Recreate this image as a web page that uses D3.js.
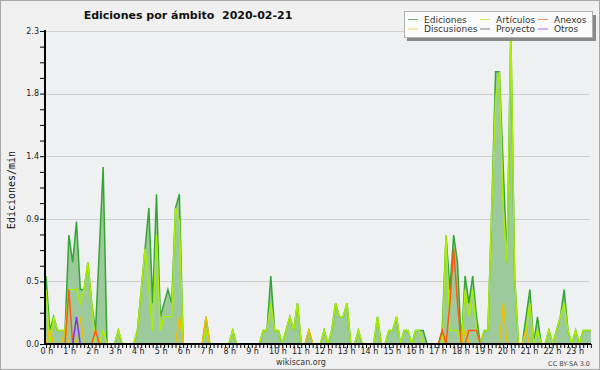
<!DOCTYPE html>
<html>
<head>
<meta charset="utf-8">
<script src="https://cdn.jsdelivr.net/npm/d3@7"></script>
<style>
    body { margin: 0; background: #f0f0f0; }
    svg { display: block; font-family: "DejaVu Sans", sans-serif; }
</style>
</head>
<body>
<div id="chart"></div>
<script>
// Edits per minute, one value per 10-minute slot (00:00 ... 23:50), two hours per row
const ediciones = [
    0.5, 0.1, 0.2, 0.1, 0.1, 0.1, 0.8, 0.6, 0.9, 0.4, 0.4, 0.6,
    0.3, 0.1, 0.7, 1.3, 0, 0, 0, 0.1, 0, 0, 0, 0,
    0.1, 0.4, 0.7, 1.0, 0.3, 1.1, 0.2, 0.3, 0.4, 0.3, 1.0, 1.1,
    0, 0, 0, 0, 0, 0, 0.2, 0, 0, 0, 0, 0,
    0, 0.1, 0, 0, 0, 0, 0, 0, 0, 0.1, 0.1, 0.5,
    0.1, 0.1, 0, 0.1, 0.2, 0.1, 0.3, 0, 0, 0.1, 0, 0,
    0, 0.1, 0, 0.1, 0.3, 0.2, 0.2, 0.3, 0, 0, 0.1, 0,
    0, 0, 0, 0.2, 0, 0, 0.1, 0.1, 0.2, 0, 0.1, 0.1,
    0, 0.1, 0.1, 0.1, 0, 0, 0, 0, 0.1, 0.8, 0.4, 0.8,
    0.6, 0, 0.5, 0.3, 0.5, 0.2, 0, 0.1, 0.1, 1.0, 2.0, 2.0,
    1.3, 0.6, 2.3, 0.5, 0, 0, 0.2, 0.4, 0, 0.2, 0, 0,
    0.1, 0, 0.1, 0.2, 0.4, 0.1, 0, 0.1, 0, 0.1, 0.1, 0.1
];
const articulos = [
    0.4, 0, 0.2, 0.1, 0.1, 0.1, 0.4, 0.4, 0.4, 0.3, 0.4, 0.6,
    0.3, 0, 0, 0.1, 0, 0, 0, 0.1, 0, 0, 0, 0,
    0.1, 0.4, 0.7, 0.4, 0.1, 0.8, 0.1, 0.2, 0.2, 0.2, 1.0, 0.9,
    0, 0, 0, 0, 0, 0, 0.1, 0, 0, 0, 0, 0,
    0, 0.1, 0, 0, 0, 0, 0, 0, 0, 0.1, 0.1, 0.3,
    0.1, 0.1, 0, 0.1, 0.2, 0.1, 0.3, 0, 0, 0, 0, 0,
    0, 0.1, 0, 0.1, 0.3, 0.2, 0.2, 0.3, 0, 0, 0.1, 0,
    0, 0, 0, 0.2, 0, 0, 0.1, 0.1, 0.2, 0, 0.1, 0.1,
    0, 0.1, 0.1, 0, 0, 0, 0, 0, 0, 0.8, 0.1, 0.1,
    0.1, 0, 0.4, 0.2, 0.4, 0.1, 0, 0.1, 0.1, 1.0, 1.8, 2.0,
    1.0, 0.6, 2.3, 0.5, 0, 0, 0.1, 0.3, 0, 0.1, 0, 0,
    0.1, 0, 0.1, 0.2, 0.3, 0.1, 0, 0.1, 0, 0.1, 0.1, 0.1
];
const anexos = [
    0, 0, 0, 0, 0, 0, 0.4, 0, 0, 0, 0, 0,
    0, 0.1, 0, 0, 0, 0, 0, 0, 0, 0, 0, 0,
    0, 0, 0, 0, 0, 0, 0, 0, 0, 0, 0, 0,
    0, 0, 0, 0, 0, 0, 0, 0, 0, 0, 0, 0,
    0, 0, 0, 0, 0, 0, 0, 0, 0, 0, 0, 0,
    0, 0, 0, 0, 0, 0, 0, 0, 0, 0, 0, 0,
    0, 0, 0, 0, 0, 0, 0, 0, 0, 0, 0, 0,
    0, 0, 0, 0, 0, 0, 0, 0, 0, 0, 0, 0,
    0, 0, 0, 0, 0, 0, 0, 0, 0.1, 0, 0.3, 0.7,
    0.3, 0, 0, 0.1, 0.1, 0.1, 0, 0, 0, 0, 0, 0,
    0, 0, 0, 0, 0, 0, 0, 0, 0, 0, 0, 0,
    0, 0, 0, 0, 0, 0, 0, 0, 0, 0, 0, 0
];
const discusiones = [
    0, 0.1, 0, 0, 0, 0.1, 0, 0, 0, 0.2, 0, 0,
    0, 0, 0, 0, 0, 0, 0, 0, 0, 0, 0, 0,
    0, 0, 0, 0, 0, 0, 0, 0, 0, 0, 0, 0.2,
    0, 0, 0, 0, 0, 0, 0.2, 0, 0, 0, 0, 0,
    0, 0, 0, 0, 0, 0, 0, 0, 0, 0, 0, 0,
    0, 0, 0, 0, 0, 0, 0, 0, 0, 0.1, 0, 0,
    0, 0, 0, 0, 0, 0, 0, 0, 0, 0, 0, 0,
    0, 0, 0, 0, 0, 0, 0, 0, 0, 0, 0, 0,
    0, 0, 0, 0, 0, 0, 0, 0, 0, 0, 0, 0,
    0, 0, 0.1, 0, 0, 0, 0, 0, 0, 0, 0, 0,
    0.3, 0, 0, 0, 0, 0, 0.1, 0, 0, 0, 0, 0,
    0, 0, 0, 0, 0, 0, 0, 0, 0, 0, 0, 0
];
const proyecto = [
    0, 0, 0, 0, 0, 0, 0, 0, 0, 0, 0, 0,
    0, 0, 0, 0, 0, 0, 0, 0, 0, 0, 0, 0,
    0, 0, 0, 0, 0, 0, 0, 0, 0, 0, 0, 0,
    0, 0, 0, 0, 0, 0, 0, 0, 0, 0, 0, 0,
    0, 0, 0, 0, 0, 0, 0, 0, 0, 0, 0, 0,
    0, 0, 0, 0, 0, 0, 0, 0, 0, 0, 0, 0,
    0, 0, 0, 0, 0, 0, 0, 0, 0, 0, 0, 0,
    0, 0, 0, 0, 0, 0, 0, 0, 0, 0, 0, 0,
    0, 0, 0, 0, 0, 0, 0, 0, 0, 0, 0, 0,
    0, 0, 0, 0, 0, 0, 0, 0, 0, 0, 0, 0,
    0, 0, 0, 0, 0, 0, 0, 0, 0, 0, 0, 0,
    0, 0, 0, 0, 0, 0, 0, 0, 0, 0, 0, 0
];
const otros = [
    0, 0, 0, 0, 0, 0, 0, 0, 0.2, 0, 0, 0,
    0, 0, 0, 0, 0, 0, 0, 0, 0, 0, 0, 0,
    0, 0, 0, 0, 0, 0, 0, 0, 0, 0, 0, 0,
    0, 0, 0, 0, 0, 0, 0, 0, 0, 0, 0, 0,
    0, 0, 0, 0, 0, 0, 0, 0, 0, 0, 0, 0,
    0, 0, 0, 0, 0, 0, 0, 0, 0, 0, 0, 0,
    0, 0, 0, 0, 0, 0, 0, 0, 0, 0, 0, 0,
    0, 0, 0, 0, 0, 0, 0, 0, 0, 0, 0, 0,
    0, 0, 0, 0, 0, 0, 0, 0, 0, 0, 0, 0,
    0, 0, 0, 0, 0, 0, 0, 0, 0, 0, 0, 0,
    0, 0, 0, 0, 0, 0, 0, 0, 0, 0, 0, 0,
    0, 0, 0, 0, 0, 0, 0, 0, 0, 0, 0, 0
];

const yTicks = [0, 0.46, 0.92, 1.38, 1.84, 2.3];
const hourLabels = d3.range(24).map(h => `${h} h`);

// legend order: row 1 then row 2
const legendItems = [
    { name: "Ediciones", color: "#3aa83a" },
    { name: "Artículos", color: "#b4ee10" },
    { name: "Anexos", color: "#ff6a20" },
    { name: "Discusiones", color: "#f2c62a" },
    { name: "Proyecto", color: "#555555" },
    { name: "Otros", color: "#8a3cf5" }
];

// --- LAYOUT ---
const W = 600, H = 370;
const plot = { left: 45, right: 590, top: 31, bottom: 344 };

const svg = d3.select("#chart").append("svg").attr("width", W).attr("height", H);

svg.append("rect").attr("x", 0.5).attr("y", 0.5).attr("width", W - 1).attr("height", H - 1)
    .attr("fill", "#f0f0f0").attr("stroke", "#a8a8a8");
svg.append("rect").attr("x", plot.left).attr("y", plot.top)
    .attr("width", plot.right - plot.left).attr("height", plot.bottom - plot.top)
    .attr("fill", "#eff0f2");

// --- SCALES ---
const x = d3.scaleLinear().domain([0, 24]).range([46, 46 + 24 * 22.86]);
const y = d3.scaleLinear().domain([0, 2.3]).range([plot.bottom, plot.top]);
const slotX = (d, i) => x(i / 6);

// Grid
svg.append("g").selectAll("line").data(yTicks.slice(1)).enter().append("line")
    .attr("x1", plot.left).attr("x2", plot.right)
    .attr("y1", d => Math.round(y(d)) + 0.5).attr("y2", d => Math.round(y(d)) + 0.5)
    .attr("stroke", "#cfcfcf").attr("stroke-width", 1);

// --- SERIES ---
const area = d3.area().x(slotX).y0(y(0)).y1(d => y(d));
const line = d3.line().x(slotX).y(d => y(d));

svg.append("path").datum(ediciones).attr("d", area).attr("fill", "#9dca9d");

const seriesOrder = [
    [ediciones, "#35a535"],
    [articulos, "#aaee00"],
    [discusiones, "#f0c000"],
    [anexos, "#ff5a10"],
    [proyecto, "#555555"],
    [otros, "#7f2fff"]
];
seriesOrder.forEach(([data, color]) => {
    svg.append("path").datum(data).attr("d", line)
        .attr("fill", "none").attr("stroke", color).attr("stroke-width", 1.5)
        .attr("stroke-linejoin", "miter");
});

// --- AXES ---
const xAxis = svg.append("g").attr("transform", `translate(0,${plot.bottom})`)
    .call(d3.axisBottom(x).tickValues(d3.range(0, 144).map(i => i / 6)).tickSize(4).tickFormat(""))
    .call(g => g.select(".domain").remove());
xAxis.selectAll("line").attr("stroke", "#000");

svg.append("g").selectAll("text").data(hourLabels).enter().append("text")
    .attr("x", (d, h) => x(h) - 5.5).attr("y", 354)
    .attr("font-size", "8px").attr("fill", "#222")
    .text(d => d);

const minorY = d3.range(0, 21).map(k => k * 0.115);
const yAxis = svg.append("g").attr("transform", `translate(${plot.left},0)`)
    .call(d3.axisLeft(y).tickValues(minorY).tickSize(5).tickFormat(""))
    .call(g => g.select(".domain").remove());
yAxis.selectAll("line").attr("stroke", "#000");

svg.append("g").selectAll("text").data(yTicks).enter().append("text")
    .attr("x", 39).attr("y", d => y(d)).attr("dy", "0.35em")
    .attr("text-anchor", "end").attr("font-size", "8px").attr("fill", "#222")
    .text(d => d3.format(".1f")(d));

svg.append("line").attr("x1", plot.left).attr("x2", plot.left)
    .attr("y1", plot.top - 1).attr("y2", plot.bottom + 1).attr("stroke", "#000").attr("stroke-width", 2);
svg.append("line").attr("x1", plot.left - 1).attr("x2", plot.right + 1)
    .attr("y1", plot.bottom).attr("y2", plot.bottom).attr("stroke", "#000").attr("stroke-width", 2);

// --- TEXTS ---
svg.append("text").attr("x", 188).attr("y", 19).attr("text-anchor", "middle")
    .attr("font-size", "11px").attr("font-weight", "bold").attr("fill", "#111")
    .attr("xml:space", "preserve").style("white-space", "pre")
    .text("Ediciones por ámbito  2020-02-21");

svg.append("text").attr("transform", "translate(15,190) rotate(-90)")
    .attr("text-anchor", "middle").attr("font-size", "10px")
    .attr("font-family", "'DejaVu Sans Mono', monospace").attr("fill", "#111")
    .text("Ediciones/min");

svg.append("text").attr("x", 301).attr("y", 365).attr("text-anchor", "middle")
    .attr("font-size", "8px").attr("fill", "#333").text("wikiscan.org");

svg.append("text").attr("x", 590).attr("y", 366).attr("text-anchor", "end")
    .attr("font-size", "6.5px").attr("fill", "#444").text("CC BY-SA 3.0");

// --- LEGEND ---
const legend = svg.append("g");
legend.append("rect").attr("x", 407).attr("y", 15).attr("width", 189).attr("height", 26).attr("fill", "#8a8a8a");
legend.append("rect").attr("x", 404.5).attr("y", 11.5).attr("width", 188).attr("height", 26)
    .attr("fill", "#fbfbfb").attr("stroke", "#b0b0b0");

const colX = [408, 480, 538];
const rowY = [19.5, 29];
legendItems.forEach((d, k) => {
    const cx = colX[k % 3], cy = rowY[Math.floor(k / 3)];
    legend.append("line").attr("x1", cx).attr("x2", cx + 10).attr("y1", cy).attr("y2", cy)
        .attr("stroke", d.color).attr("stroke-width", 1).attr("opacity", 0.75);
    legend.append("text").attr("x", cx + 16).attr("y", cy).attr("dy", "0.35em")
        .attr("font-size", "9px").attr("fill", "#333").text(d.name);
});
</script>
</body>
</html>
